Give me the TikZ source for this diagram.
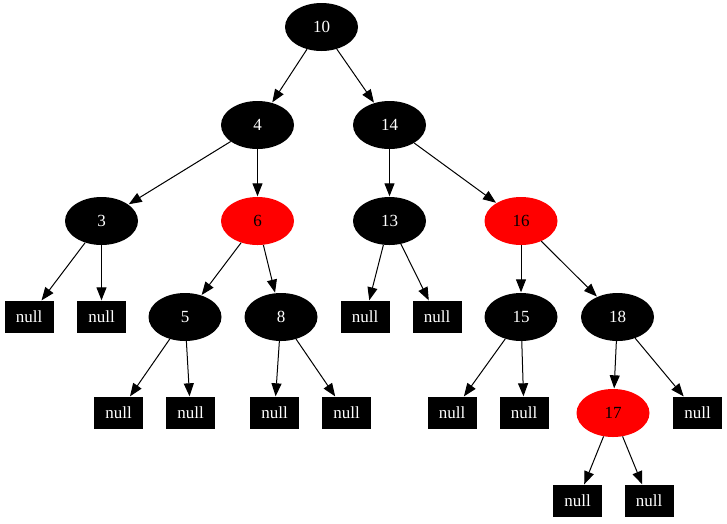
\documentclass[tikz,border=0pt]{standalone}
\usepackage{fontspec}
\setmainfont{Liberation Serif}
\usetikzlibrary{arrows.meta,shapes.geometric}
\tikzset{
  bnode/.style={ellipse, fill=black, text=white, minimum width=73pt, minimum height=48pt, inner sep=0pt, font=\fontsize{17}{17}\selectfont},
  rnode/.style={ellipse, fill=red, text=black, minimum width=73pt, minimum height=48pt, inner sep=0pt, font=\fontsize{17}{17}\selectfont},
  nullbox/.style={rectangle, fill=black, text=white, minimum width=49pt, minimum height=32pt, inner sep=0pt, font=\fontsize{17}{17}\selectfont},
  edge/.style={draw=black, line width=1pt, -{Triangle[length=13pt,width=10pt]}, shorten >=0.5pt}
}
\begin{document}
\begin{tikzpicture}[x=1pt,y=-1pt]
\useasboundingbox (0,0) rectangle (727,523);
\node[bnode] (n10) at (321.5,27) {10};
\node[bnode] (n4) at (257.5,125) {4};
\node[bnode] (n14) at (389.5,125) {14};
\node[bnode] (n3) at (101.5,221) {3};
\node[rnode] (n6) at (257.5,221) {6};
\node[bnode] (n13) at (389.5,221) {13};
\node[rnode] (n16) at (521,221) {16};
\node[nullbox] (z1) at (29,317) {null};
\node[nullbox] (z2) at (101.5,317) {null};
\node[bnode] (n5) at (185,317) {5};
\node[bnode] (n8) at (281,317) {8};
\node[nullbox] (z3) at (365,317) {null};
\node[nullbox] (z4) at (437,317) {null};
\node[bnode] (n15) at (521,317) {15};
\node[bnode] (n18) at (617.5,317) {18};
\node[nullbox] (z5) at (118.5,413) {null};
\node[nullbox] (z6) at (190.5,413) {null};
\node[nullbox] (z7) at (274.5,413) {null};
\node[nullbox] (z8) at (346.5,413) {null};
\node[nullbox] (z9) at (452,413) {null};
\node[nullbox] (z10) at (524,413) {null};
\node[rnode] (n17) at (613,413) {17};
\node[nullbox] (z11) at (697.5,413) {null};
\node[nullbox] (z12) at (577.5,501) {null};
\node[nullbox] (z13) at (649,501) {null};
\draw[edge] (n10) -- (n4);
\draw[edge] (n10) -- (n14);
\draw[edge] (n4) -- (n3);
\draw[edge] (n4) -- (n6);
\draw[edge] (n14) -- (n13);
\draw[edge] (n14) -- (n16);
\draw[edge] (n3) -- (z1);
\draw[edge] (n3) -- (z2);
\draw[edge] (n6) -- (n5);
\draw[edge] (n6) -- (n8);
\draw[edge] (n13) -- (z3);
\draw[edge] (n13) -- (z4);
\draw[edge] (n16) -- (n15);
\draw[edge] (n16) -- (n18);
\draw[edge] (n5) -- (z5);
\draw[edge] (n5) -- (z6);
\draw[edge] (n8) -- (z7);
\draw[edge] (n8) -- (z8);
\draw[edge] (n15) -- (z9);
\draw[edge] (n15) -- (z10);
\draw[edge] (n18) -- (n17);
\draw[edge] (n18) -- (z11);
\draw[edge] (n17) -- (z12);
\draw[edge] (n17) -- (z13);
\end{tikzpicture}
\end{document}
